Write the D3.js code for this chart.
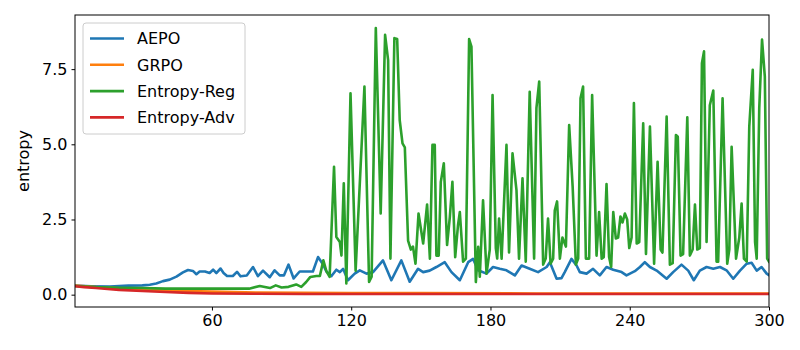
<!DOCTYPE html>
<html>
<head>
<meta charset="utf-8">
<script src="https://cdn.jsdelivr.net/npm/d3@7"></script>
<style>
  body { margin: 0; background: #fff; }
  text { font-family: "DejaVu Sans", sans-serif; }
</style>
</head>
<body>
<div class="chart"></div>
<script>
//Series names and colours
const names = ["AEPO", "GRPO", "Entropy-Reg", "Entropy-Adv"];
const colors = ["#1f77b4", "#ff7f0e", "#2ca02c", "#d62728"];
const xTicks = [60, 120, 180, 240, 300];
const yTicks = [0, 2.5, 5, 7.5];

//AEPO (blue)
const aepoX = [1,8,16,24,30,33.2,36,38.9,41.8,44.7,47.5,49.7,51.8,53.3,54.7,57,59,60.5,61.9,63.7,65,66.5,69,70.8,72.3,75,77.7,79.8,82,84.9,87,89.2,91,93,95.2,97.8,100.5,103.5,105.7,107.9,109.3,111.5,113.6,115.1,116.5,118.6,121.5,123.7,126.6,129.4,133.7,137.3,141.6,145.2,148.8,151,153.8,156.7,160.3,163.2,166.8,170.4,172.5,174.7,178.3,181.1,184,186.9,190.5,193.4,196.9,200.5,204.2,205.6,208.5,210.6,212,214.9,217.1,218.5,221.4,224.2,227.1,230,232.9,236.5,238.6,242.2,244.4,246.5,248.7,251.6,255.9,258.7,262.3,265.2,267.6,270.2,273.1,276,278.9,281.7,284.6,287.5,290.4,292.5,294.7,296.8,299,300];
const aepoY = [0.3,0.28,0.27,0.3,0.31,0.33,0.37,0.45,0.5,0.6,0.74,0.82,0.79,0.68,0.77,0.77,0.72,0.83,0.72,0.87,0.72,0.62,0.62,0.76,0.61,0.64,0.92,0.62,0.8,0.58,0.81,0.64,0.64,1.0,0.54,0.77,0.77,0.77,1.25,1.0,0.77,0.62,0.83,0.75,0.86,0.48,0.7,0.81,0.7,0.75,1.14,0.48,1.14,0.43,0.86,0.75,0.8,0.92,1.08,0.75,0.48,1.08,1.19,0.81,0.7,0.92,0.86,0.81,0.64,0.97,0.86,0.75,0.92,1.08,0.53,0.55,0.75,1.19,0.97,0.75,0.7,0.86,0.64,0.92,0.83,0.75,0.64,0.78,0.92,1.08,0.92,0.8,0.53,0.75,1.0,0.8,0.48,0.8,0.92,0.86,0.92,0.81,0.53,0.8,1.03,1.06,0.8,0.92,0.7,0.65];

//GRPO (orange)
const grpoX = [1,10,20,30,40,60,80,100,120,150,200,300];
const grpoY = [0.3,0.25,0.21,0.17,0.14,0.1,0.07,0.06,0.05,0.05,0.04,0.04];

//Entropy-Reg (green)
const regX = [1,10,20,30,40,50,60,70,76,80.6,85,87.5,90,93,96.3,98.5,100.6,102.4,105,106.5,108,109.3,110.7,112.6,113.6,115.1,115.8,116.8,117.9,119.7,121.9,125.7,127.7,128.8,130.6,132.7,134.6,135.9,136.9,138.6,139.8,140.9,142.1,143.1,144.5,145.7,146.6,147.7,149,151,152.7,153.9,155,156,156.7,157.7,158.6,159.9,161.3,162.5,163.6,164.8,166,166.8,168.2,169.4,170.8,171.8,173.7,174.7,175.4,176.8,178.3,179.7,180.9,182.3,182.9,183.7,184.8,186.9,188,189.5,191.2,192.3,193.8,195.2,196.9,198.8,199.8,201,202.7,203.8,204.8,205.9,207,207.7,208.7,209.9,211,212.5,213.9,215.4,216.8,217.8,218.8,219.9,221.1,222.5,223.8,225.7,226.8,227.9,228.8,230,231.1,232,232.9,234,235,236,236.9,237.9,238.9,239.8,240.8,241.8,243,244.1,245.8,247,248.7,250.5,252,253.3,254.1,255.9,257.3,258.5,259.9,260.7,261.9,263,264.8,265.9,267.1,268.1,269.1,270.2,271.1,272,273.1,274.5,276,277.4,278.1,280,282,282.9,283.9,285.8,287.2,288.2,289.2,290.4,291.5,293,294,294.7,295.8,297,298.2,299.2,300];
const regY = [0.29,0.25,0.23,0.22,0.2,0.2,0.2,0.2,0.2,0.29,0.22,0.31,0.24,0.26,0.34,0.26,0.42,0.59,0.62,0.62,1.14,0.78,0.59,4.25,1.92,1.75,1.3,3.7,0.37,6.7,0.8,6.92,0.42,0.6,8.87,2.7,8.64,7.8,1.2,8.53,8.5,5.8,5.03,4.9,1.8,1.5,1.6,1.03,2.7,1.7,3.0,1.2,4.98,4.98,1.3,1.3,3.75,4.37,1.65,2.59,3.75,1.25,2.3,2.75,1.1,1.2,8.5,8.25,0.42,1.59,0.6,3.14,0.7,1.5,6.64,1.55,1.2,2.53,1.2,4.98,1.4,4.7,3.48,1.2,3.87,1.1,6.75,1.2,6.2,7.09,1.0,1.2,2.53,1.03,1.2,2.8,3.1,1.2,1.9,1.6,5.64,3.6,1.0,1.2,6.53,6.92,1.2,1.2,6.64,1.3,2.75,1.2,1.25,3.68,1.25,0.92,2.75,1.87,1.9,2.6,2.4,2.7,2.5,1.55,1.9,6.37,1.7,1.75,5.7,1.35,5.59,1.03,4.42,1.5,1.4,5.92,1.0,1.05,5.31,5.25,1.3,1.35,5.9,1.3,1.5,3.0,1.5,1.55,7.7,8.09,1.75,6.3,6.79,1.1,1.1,6.53,1.03,1.5,4.92,1.2,1.9,3.03,1.2,1.1,5.59,7.48,1.75,1.2,6.2,8.48,7.25,1.2,1.1];

//Entropy-Adv (red)
const advX = [1,5,10,15,20,30,40,50,60,80,100,150,200,250,300];
const advY = [0.28,0.25,0.22,0.19,0.16,0.12,0.09,0.06,0.04,0.03,0.02,0.02,0.02,0.02,0.02];

const seriesX = [aepoX, grpoX, regX, advX];
const seriesY = [aepoY, grpoY, regY, advY];

//Create margins
const margin = {top: 15, left: 75, bottom: 43, right: 31};
const width = 800 - margin.left - margin.right;
const height = 350 - margin.top - margin.bottom;

//Create svg
const svg = d3
  .select('.chart')
  .append('svg')
  .attr('width', width + margin.left + margin.right)
  .attr('height', height + margin.top + margin.bottom)
  .append('g')
  .attr('transform', 'translate(' + margin.left + ',' + margin.top + ')');

//Create x and y scales
const xScale = d3.scaleLinear().domain([1, 300]).range([0, width]);
const yScale = d3.scaleLinear().domain([-0.41, 9.3]).range([height, 0]);

//Clip lines to the plot area
svg.append('clipPath')
  .attr('id', 'clip')
  .append('rect')
  .attr('width', width)
  .attr('height', height);

//Draw lines
const line = d3.line()
  .x(d => xScale(d[0]))
  .y(d => yScale(d[1]));

const lines = svg.append('g').attr('clip-path', 'url(#clip)');
seriesX.forEach(function(xs, i) {
  const pts = xs.map((x, j) => [x, seriesY[i][j]]);
  lines.append('path')
    .datum(pts)
    .attr('fill', 'none')
    .attr('stroke', colors[i])
    .attr('stroke-width', 2.6)
    .attr('stroke-linejoin', 'round')
    .attr('stroke-linecap', 'square')
    .attr('d', line);
});

//Create axis
const xAxis = d3.axisBottom(xScale)
  .tickValues(xTicks)
  .tickSize(3.5)
  .tickPadding(4)
  .tickFormat(d3.format('d'));
const yAxis = d3.axisLeft(yScale)
  .tickValues(yTicks)
  .tickSize(3.5)
  .tickPadding(4)
  .tickFormat(d3.format('.1f'));

const xAxisContainer = svg.append('g')
  .attr('class', 'axis x-axis')
  .attr('transform', `translate(0, ${height})`)
  .call(xAxis);
const yAxisContainer = svg.append('g')
  .attr('class', 'axis y-axis')
  .call(yAxis);

svg.selectAll('.axis .domain').remove();
svg.selectAll('.axis text')
  .attr('font-size', 16)
  .attr('font-family', '"DejaVu Sans", sans-serif')
  .attr('fill', '#000');
svg.selectAll('.axis line').attr('stroke', '#000').attr('stroke-width', 1);

//Frame
svg.append('rect')
  .attr('width', width)
  .attr('height', height)
  .attr('fill', 'none')
  .attr('stroke', '#000')
  .attr('stroke-width', 1);

//Axis title
svg.append('text')
  .attr('class', 'axis-title')
  .attr('transform', `translate(${-46}, ${height / 2}) rotate(-90)`)
  .attr('text-anchor', 'middle')
  .attr('font-size', 16)
  .text('entropy');

//Legend
const legend = svg.append('g').attr('transform', 'translate(8, 8)');
legend.append('rect')
  .attr('width', 162)
  .attr('height', 111)
  .attr('rx', 3)
  .attr('fill', '#fff')
  .attr('fill-opacity', 0.8)
  .attr('stroke', '#cccccc')
  .attr('stroke-width', 1);

names.forEach(function(name, i) {
  const y = 15.5 + i * 26.3;
  legend.append('line')
    .attr('x1', 7).attr('x2', 41)
    .attr('y1', y).attr('y2', y)
    .attr('stroke', colors[i])
    .attr('stroke-width', 2.6);
  legend.append('text')
    .attr('x', 54)
    .attr('y', y)
    .attr('dy', '0.36em')
    .attr('font-size', 16)
    .text(name);
});
</script>
</body>
</html>
